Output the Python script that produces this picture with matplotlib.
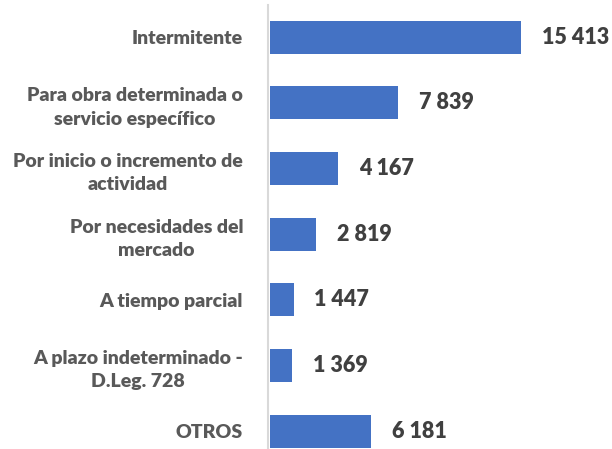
import matplotlib.pyplot as plt

# categories and counts (top to bottom)
categorias = [
    'Intermitente',
    'Para obra determinada o\nservicio específico',
    'Por inicio o incremento de\nactividad',
    'Por necesidades del\nmercado',
    'A tiempo parcial',
    'A plazo indeterminado -\nD.Leg. 728',
    'OTROS',
]
valores = [15413, 7839, 4167, 2819, 1447, 1369, 6181]

plt.rcParams['font.family'] = ['Lato', 'DejaVu Sans']

fig = plt.figure(figsize=(6.12, 4.49), dpi=100)
ax = fig.add_axes([0.438, 0.0, 0.552, 0.989])

# axis styling first: moving the spine resets the tick labels
for lado in ['top', 'right', 'bottom']:
    ax.spines[lado].set_visible(False)
ax.spines['left'].set_color('#D9D9D9')
ax.spines['left'].set_linewidth(1.5)
ax.spines['left'].set_position(('data', -120))

y = list(range(len(categorias)))
ax.barh(y, valores, height=0.5, color='#4472C4')

# value labels to the right of each bar
for yi, v in zip(y, valores):
    etiqueta = f'{v:,}'.replace(',', ' ')
    ax.annotate(etiqueta, (v, yi), xytext=(15, 0), textcoords='offset points',
                ha='left', va='center', fontsize=15.5, fontweight='heavy', color='#404040')

ax.set_ylim(6.27, -0.49)
ax.set_xlim(-120, 20600)
ax.set_yticks(y)
ax.set_yticklabels(categorias, fontsize=14, fontweight='heavy', color='#595959',
                   multialignment='center', linespacing=1.45)
ax.tick_params(axis='y', length=0, pad=18)
ax.set_xticks([])

fig.savefig('out.png', dpi=100)
